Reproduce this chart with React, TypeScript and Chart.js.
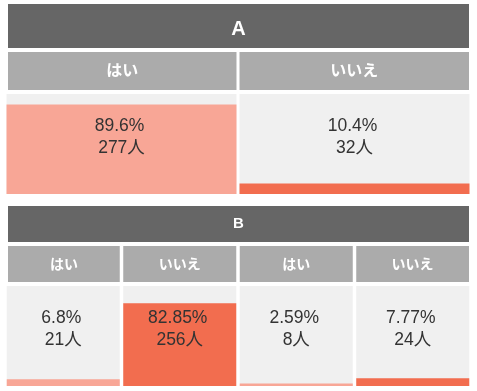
import React, { useEffect, useRef } from "react";
import { Chart, registerables } from "chart.js";

Chart.register(...registerables);

// ---- data ----
const titleA = "A";
const answersA = ["はい", "いいえ"];
const percentA = [89.6, 10.4];
const countA = [277, 32];

const titleB = "B";
const answersB = ["はい", "いいえ", "はい", "いいえ"];
const percentB = [6.8, 82.85, 2.59, 7.77];
const countB = [21, 256, 8, 24];

const fullScale = 100;
const countUnit = "人";
const yesLabel = "はい";

// ---- styles ----
const COLOR_YES = "#f8a696";
const COLOR_NO = "#f26d4f";
const COLOR_TRACK = "#f0f0f0";
const COLOR_TITLE = "#666666";
const COLOR_SUB = "#ababab";
const COLOR_TEXT = "#333333";
const VALUE_FONT = '17.5px "Liberation Sans", "Noto Sans CJK JP", sans-serif';

type Layout = {
  top: number;
  height: number;
  titleH: number;
  titleFont: string;
  titleBase: number;
  subTop: number;
  subH: number;
  subFont: string;
  subMid: number;
  padTop: number;
  barPct: number;
};

const layoutA: Layout = {
  top: 4,
  height: 190,
  titleH: 44,
  titleFont: 'bold 20px "Liberation Sans", "Noto Sans CJK JP", sans-serif',
  titleBase: 31,
  subTop: 48,
  subH: 38,
  subFont: 'bold 16px "Noto Sans CJK JP", sans-serif',
  subMid: 65.5,
  padTop: 90,
  barPct: 0.987,
};

const layoutB: Layout = {
  top: 206,
  height: 180,
  titleH: 36,
  titleFont: 'bold 15px "Liberation Sans", "Noto Sans CJK JP", sans-serif',
  titleBase: 22,
  subTop: 40,
  subH: 36,
  subFont: 'bold 14px "Noto Sans CJK JP", sans-serif',
  subMid: 57.5,
  padTop: 80,
  barPct: 0.97,
};

const CANVAS_LEFT = 5;
const CANVAS_W = 466;

function Section(props: {
  title: string;
  answers: string[];
  percents: number[];
  counts: number[];
  layout: Layout;
}) {
  const ref = useRef<HTMLCanvasElement | null>(null);
  const { title, answers, percents, counts, layout } = props;

  useEffect(() => {
    if (!ref.current) return;
    const headPlugin = {
      id: "tableHeads",
      afterDatasetsDraw(chart: any) {
        const ctx = chart.ctx as CanvasRenderingContext2D;
        const meta = chart.getDatasetMeta(1);
        const left = 3;
        const right = chart.width - 2;
        ctx.save();
        ctx.fillStyle = COLOR_TITLE;
        ctx.fillRect(left, 0, right - left, layout.titleH);
        ctx.fillStyle = "#ffffff";
        ctx.font = layout.titleFont;
        ctx.textAlign = "center";
        ctx.textBaseline = "alphabetic";
        ctx.fillText(title, (left + right) / 2, layout.titleBase);
        const top = chart.chartArea.top;
        meta.data.forEach((el: any, i: number) => {
          const { x, width } = el.getProps(["x", "width"], true);
          const l = Math.max(x - width / 2, left);
          const r = Math.min(x + width / 2, right);
          ctx.fillStyle = COLOR_SUB;
          ctx.fillRect(l, layout.subTop, r - l, layout.subH);
          ctx.fillStyle = "#ffffff";
          ctx.font = layout.subFont;
          ctx.textBaseline = "middle";
          ctx.fillText(answers[i], (l + r) / 2, layout.subMid);
          ctx.fillStyle = COLOR_TEXT;
          ctx.font = VALUE_FONT;
          ctx.textBaseline = "alphabetic";
          ctx.fillText(String(percents[i]) + "%", x - 2, top + 37);
          ctx.fillText(String(counts[i]) + countUnit, x, top + 59);
        });
        ctx.restore();
      },
    };

    const chart = new Chart(ref.current, {
      type: "bar",
      data: {
        labels: answers,
        datasets: [
          {
            data: percents,
            backgroundColor: answers.map((a) => (a === yesLabel ? COLOR_YES : COLOR_NO)),
            borderWidth: 0,
            grouped: false,
            order: 0,
            categoryPercentage: 1,
            barPercentage: layout.barPct,
          },
          {
            data: answers.map(() => fullScale),
            backgroundColor: COLOR_TRACK,
            borderWidth: 0,
            grouped: false,
            order: 1,
            categoryPercentage: 1,
            barPercentage: layout.barPct,
          },
        ],
      },
      options: {
        animation: false,
        responsive: false,
        maintainAspectRatio: false,
        layout: { padding: { top: layout.padTop, left: 0, right: 0, bottom: 0 } },
        plugins: { legend: { display: false }, tooltip: { enabled: false } },
        scales: {
          x: { display: false, offset: true },
          y: { display: false, min: 0, max: fullScale },
        },
      },
      plugins: [headPlugin],
    } as any);
    return () => chart.destroy();
  }, []);

  return (
    <canvas
      ref={ref}
      width={CANVAS_W}
      height={layout.height}
      style={{
        position: "absolute",
        left: CANVAS_LEFT,
        top: layout.top,
        width: CANVAS_W,
        height: layout.height,
      }}
    />
  );
}

export default function App() {
  return (
    <div style={{ position: "absolute", left: 0, top: 0, width: 477, height: 391, background: "#ffffff" }}>
      <Section title={titleA} answers={answersA} percents={percentA} counts={countA} layout={layoutA} />
      <Section title={titleB} answers={answersB} percents={percentB} counts={countB} layout={layoutB} />
    </div>
  );
}
